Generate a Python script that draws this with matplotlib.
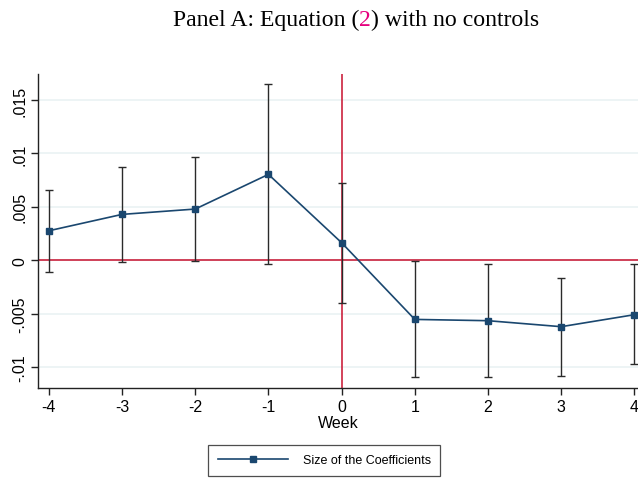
import numpy as np
import matplotlib.pyplot as plt

weeks = [-4, -3, -2, -1, 0, 1, 2, 3, 4]
coef = [0.00277, 0.0043, 0.0048, 0.00804, 0.00165, -0.00552, -0.00564, -0.0062, -0.00508]
ci_hi = [0.0066, 0.00875, 0.00963, 0.01645, 0.00725, -0.0001, -0.00037, -0.00165, -0.00037]
ci_lo = [-0.00112, -0.00016, -0.00007, -0.00031, -0.00396, -0.0109, -0.0109, -0.01078, -0.00972]
yticks = [-0.01, -0.005, 0, 0.005, 0.01, 0.015]
ylabels = ['-.01', '-.005', '0', '.005', '.01', '.015']

navy = '#1a476f'
red = '#c8102e'

fig = plt.figure(figsize=(6.38, 4.85), dpi=100)
ax = fig.add_axes([0.06, 0.198, 0.94, 0.647])

# gridlines and reference lines at zero
for t in yticks:
    ax.axhline(t, color='#eaf2f3', lw=1.2, zorder=0)
ax.axhline(0, color=red, lw=1.1, zorder=1)
ax.axvline(0, color=red, lw=1.1, zorder=1)

coef = np.array(coef)
err = [coef - np.array(ci_lo), np.array(ci_hi) - coef]
ax.errorbar(weeks, coef, yerr=err, fmt='none', ecolor='#2a2a2a',
            elinewidth=1.0, capsize=3.2, capthick=1.0, zorder=2)
line, = ax.plot(weeks, coef, color=navy, lw=1.2, marker='s', ms=5,
                mfc=navy, mec=navy, zorder=3, label='Size of the Coefficients')

ax.set_xlim(-4.145, 4.05)
ax.set_ylim(-0.01193, 0.01741)
ax.set_xticks(weeks)
ax.set_xticklabels([str(w) for w in weeks], fontsize=11.5, family='Liberation Sans')
ax.set_yticks(yticks)
ax.set_yticklabels(ylabels, fontsize=11.5, family='Liberation Sans', rotation=90, va='center')
ax.tick_params(length=5, width=1, color='#222222', pad=3)
ax.set_xlabel('Week', fontsize=11.5, family='Liberation Sans', labelpad=1)
for s in ['top', 'right']:
    ax.spines[s].set_visible(False)
for s in ['left', 'bottom']:
    ax.spines[s].set_linewidth(1.0)
    ax.spines[s].set_color('#222222')

leg = fig.legend(handles=[line], loc='center', bbox_to_anchor=(0.508, 0.049),
                 prop={'family': 'Liberation Sans', 'size': 9}, frameon=True,
                 fancybox=False, edgecolor='#222222', handlelength=5.6,
                 borderpad=0.75, handletextpad=1.2)
leg.get_frame().set_linewidth(0.9)

# title with the equation number in magenta
tfont = dict(family='Liberation Serif', fontsize=17.1)
ty = 0.947
t1 = fig.text(0.271, ty, 'Panel A: Equation (', ha='left', va='baseline', **tfont)
t2 = fig.text(0, 0, '2', color='#e6007e', ha='left', va='baseline', **tfont)
t3 = fig.text(0, 0, ') with no controls', ha='left', va='baseline', **tfont)
fig.canvas.draw()
r = fig.canvas.get_renderer()
inv = fig.transFigure.inverted()
x1 = inv.transform((t1.get_window_extent(r).x1, 0))[0]
t2.set_position((x1, ty))
fig.canvas.draw()
x2 = inv.transform((t2.get_window_extent(r).x1, 0))[0]
t3.set_position((x2, ty))

fig.savefig('out.png', dpi=100)
